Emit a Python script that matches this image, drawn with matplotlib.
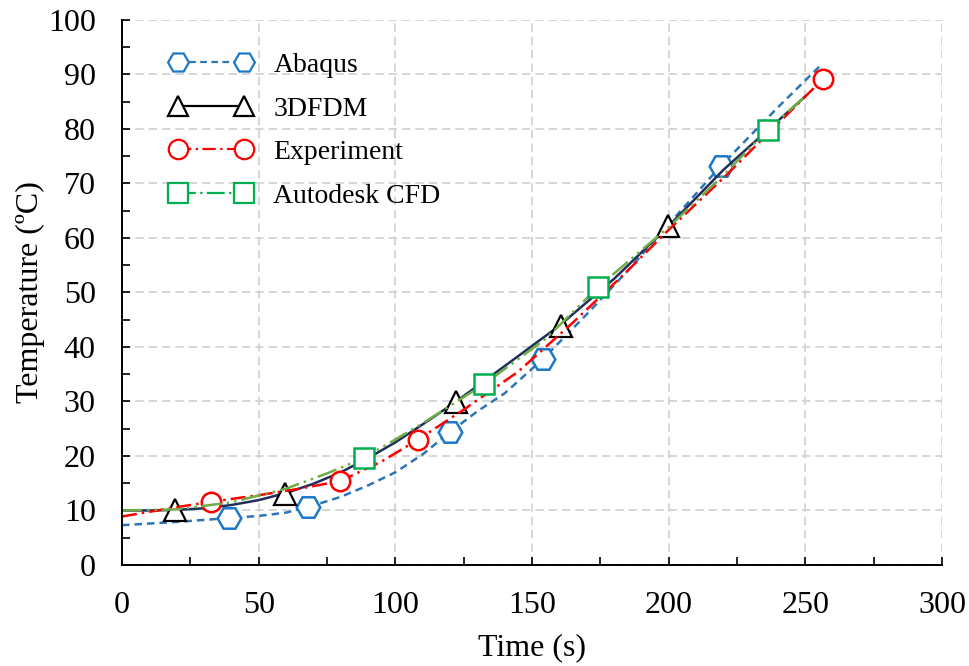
import matplotlib.pyplot as plt
from matplotlib.ticker import MultipleLocator
from matplotlib.legend_handler import HandlerLine2D

plt.rcParams['font.family'] = ['Liberation Serif', 'DejaVu Serif']

# Abaqus
abq_t = [0, 20, 39, 50, 60, 68, 80, 90, 100, 110, 120, 130, 140, 154, 170, 185, 200, 219, 240, 255]
abq_T = [7.3, 7.9, 8.6, 9.0, 9.6, 10.6, 12.5, 14.6, 17.0, 20.3, 24.4, 28.2, 31.5, 37.8, 46.0, 54.0, 62.5, 73.2, 84.0, 91.4]
abq_mk_t = [39, 68, 120, 154, 219]
abq_mk_T = [8.6, 10.6, 24.4, 37.8, 73.2]

# 3DFDM
fdm_t = [0, 10, 20, 30, 40, 50, 60, 70, 80, 90, 100, 110, 122, 140, 160, 180, 200, 220, 240, 250]
fdm_T = [10.0, 10.0, 10.1, 10.4, 11.0, 11.9, 13.2, 14.9, 17.0, 19.6, 22.5, 25.8, 29.9, 36.5, 43.9, 52.5, 62.2, 72.5, 81.5, 86.0]
fdm_mk_t = [19.4, 59.6, 122.2, 160.6, 199.8]
fdm_mk_T = [10.1, 13.0, 29.9, 43.9, 62.2]

# Experiment
exp_t = [0, 20, 32.6, 50, 65, 79.8, 95, 108.3, 125, 145, 165, 185, 200, 220, 240, 256.3, 259]
exp_T = [8.9, 10.6, 11.6, 12.8, 14.0, 15.4, 19.0, 23.0, 28.5, 35.5, 44.5, 54.0, 61.5, 71.0, 81.0, 89.1, 90.7]
exp_mk_t = [32.6, 79.8, 108.3, 256.3]
exp_mk_T = [11.6, 15.4, 23.0, 89.1]

# Autodesk CFD
cfd_t = [0, 20, 40, 60, 75, 88.5, 110, 132.5, 155, 174.2, 200, 220, 236.3, 250]
cfd_T = [10.0, 10.2, 11.5, 14.0, 16.8, 19.6, 26.0, 33.2, 41.5, 51.0, 62.0, 71.5, 79.9, 86.0]
cfd_mk_t = [88.5, 132.5, 174.2, 236.3]
cfd_mk_T = [19.6, 33.2, 51.0, 79.9]

fig = plt.figure(figsize=(9.7, 6.66), dpi=100)
ax = fig.add_axes([0.1258, 0.1517, 0.8454, 0.8183])

ax.plot(abq_t, abq_T, color='#2E75B6', ls=(0, (3, 2)), lw=1.8)
ax.plot(abq_mk_t, abq_mk_T, ls='none', marker='H', ms=17, mfc='white', mec='#1C78C8', mew=1.8)
ax.plot(fdm_t, fdm_T, color='#1F2F5C', ls='-', lw=1.8)
ax.plot(fdm_mk_t, fdm_mk_T, ls='none', marker='^', ms=16, mfc='white', mec='black', mew=1.6)
ax.plot(exp_t, exp_T, color='#FF0000', ls=(0, (6, 2, 1, 2)), lw=1.8)
ax.plot(exp_mk_t, exp_mk_T, ls='none', marker='o', ms=14, mfc='white', mec='#FF0000', mew=1.8)
ax.plot(cfd_t, cfd_T, color='#70AD47', ls=(0, (8, 2, 1, 2, 1, 2)), lw=1.8)
ax.plot(cfd_mk_t, cfd_mk_T, ls='none', marker='s', ms=15, mfc='white', mec='#00B050', mew=1.8)

# legend proxies
h1, = ax.plot([], [], color='#2E75B6', ls=(0, (3, 2)), lw=1.6, marker='H', ms=15, mfc='white', mec='#1C78C8', mew=1.6, label='Abaqus')
h2, = ax.plot([], [], color='black', ls='-', lw=1.6, marker='^', ms=14, mfc='white', mec='black', mew=1.6, label='3DFDM')
h3, = ax.plot([], [], color='#FF0000', ls=(0, (6, 2, 1, 2)), lw=1.6, marker='o', ms=14, mfc='white', mec='#FF0000', mew=1.6, label='Experiment')
h4, = ax.plot([], [], color='#00B050', ls=(0, (8, 2, 1, 2)), lw=1.6, marker='s', ms=14, mfc='white', mec='#00B050', mew=1.6, label='Autodesk CFD')

hm = {h: HandlerLine2D(numpoints=2, marker_pad=0.6) for h in (h1, h2, h3, h4)}
leg = ax.legend(handles=[h1, h2, h3, h4], handler_map=hm, loc='upper left',
                bbox_to_anchor=(0.017, 0.986), frameon=False, fontsize=20,
                handlelength=3.6, labelspacing=0.65, handletextpad=0.45)

ax.set_xlim(0, 300)
ax.set_ylim(0, 100)
ax.xaxis.set_major_locator(MultipleLocator(50))
ax.xaxis.set_minor_locator(MultipleLocator(25))
ax.yaxis.set_major_locator(MultipleLocator(10))
ax.yaxis.set_minor_locator(MultipleLocator(5))
ax.tick_params(which='both', direction='in', labelsize=23, width=1.2)
ax.tick_params(which='major', length=6, pad=19)
ax.tick_params(which='minor', length=6)
ax.grid(True, which='major', color='#D0D0D0', ls=(0, (5, 3)), lw=1.2)
ax.set_axisbelow(True)
for s in ['top', 'right']:
    ax.spines[s].set_visible(False)
for s in ['left', 'bottom']:
    ax.spines[s].set_linewidth(1.4)

ax.set_xlabel('Time (s)', fontsize=23, labelpad=9)
ax.set_ylabel('Temperature (ºC)', fontsize=23, labelpad=2)

fig.savefig('out.png', dpi=100)
